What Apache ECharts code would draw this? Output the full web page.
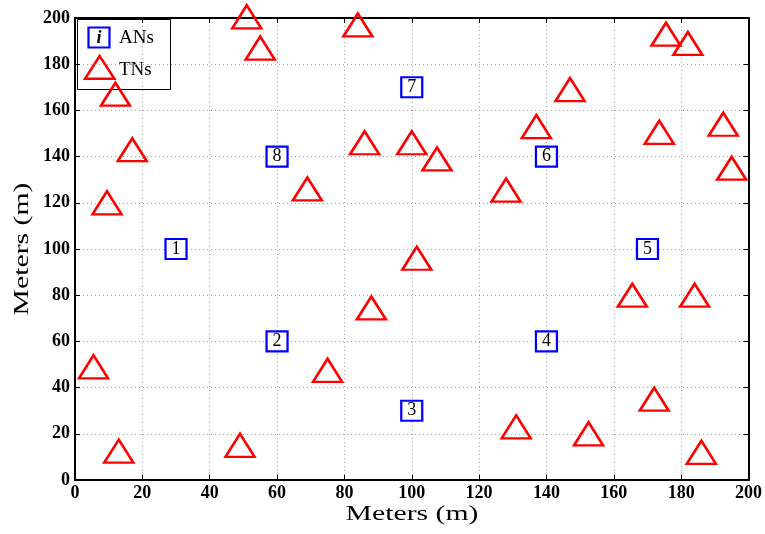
<!DOCTYPE html>
<html>
<head>
<meta charset="utf-8">
<title>Node layout</title>
<script src="https://cdn.jsdelivr.net/npm/echarts@6/dist/echarts.min.js"></script>
<style>
  html, body { margin: 0; padding: 0; background: #fff; }
  #chart { width: 765px; height: 534px; }
</style>
</head>
<body>
<div id="chart"></div>
<script>
// Anchor nodes (ANs): id label and position in meters
const anLabels = ['1', '2', '3', '4', '5', '6', '7', '8'];
const anX = [30, 60, 100, 140, 170, 140, 100, 60];
const anY = [100, 60, 30, 60, 100, 140, 170, 140];

// Target nodes (TNs): position in meters
const tnX = [51, 55, 12, 17, 9.5, 84, 86, 100, 107.5, 128, 69, 175.5, 182, 147, 137,
             173.5, 192.5, 195, 5.5, 13, 49, 101.5, 88, 75, 131, 165.5, 184, 172, 152.5, 186];
const tnY = [200.5, 187, 167, 143, 120, 197, 146, 146, 139, 125.5, 126, 193, 189, 169, 153,
             150.5, 154, 135, 49, 12.5, 15, 96, 74.5, 47.5, 23, 80, 80, 35, 20, 12];

// Axis range and tick step (meters)
const axisMin = 0;
const axisMax = 200;
const tickStep = 20;

const serif = 'Liberation Serif';

const chart = echarts.init(document.getElementById('chart'), null, { renderer: 'canvas' });

function mainAxis(position) {
  return {
    type: 'value', min: axisMin, max: axisMax, interval: tickStep, position: position,
    axisLine: { show: true, onZero: false, lineStyle: { color: '#000', width: 2 } },
    axisTick: { show: true, inside: true, length: 5, lineStyle: { color: '#000', width: 1 } },
    axisLabel: { show: true, color: '#000', fontFamily: serif, fontWeight: 'bold', fontSize: 18, margin: 4 },
    splitLine: { show: true, lineStyle: { color: '#a0a0a0', width: 1, type: [1, 3] } }
  };
}
function mirrorAxis(position) {
  return {
    type: 'value', min: axisMin, max: axisMax, interval: tickStep, position: position,
    axisLine: { show: true, onZero: false, lineStyle: { color: '#000', width: 2 } },
    axisTick: { show: true, inside: true, length: 5, lineStyle: { color: '#000', width: 1 } },
    axisLabel: { show: false },
    splitLine: { show: false }
  };
}

const option = {
  backgroundColor: '#fff',
  animation: false,
  grid: { left: 75, right: 16, top: 18, bottom: 54, containLabel: false },
  xAxis: [mainAxis('bottom'), mirrorAxis('top')],
  yAxis: [
    Object.assign(mainAxis('left'), { axisLabel: { show: true, color: '#000', fontFamily: serif, fontWeight: 'bold', fontSize: 18, margin: 5 } }),
    mirrorAxis('right')
  ],
  series: [
    {
      name: 'ANs',
      type: 'scatter',
      silent: true,
      clip: false,
      z: 3,
      symbol: 'rect',
      symbolSize: [21, 20],
      itemStyle: { color: '#fff', borderColor: '#0000ff', borderWidth: 2.2, opacity: 1 },
      label: {
        show: true, position: 'inside', color: '#000',
        fontFamily: serif, fontSize: 18,
        formatter: p => p.value[2]
      },
      data: anX.map((x, i) => [x, anY[i], anLabels[i]])
    },
    {
      name: 'TNs',
      type: 'scatter',
      silent: true,
      clip: false,
      z: 4,
      symbol: 'triangle',
      symbolSize: [29, 23],
      itemStyle: { color: 'rgba(0,0,0,0)', borderColor: '#ff0000', borderWidth: 2.5, opacity: 1 },
      data: tnX.map((x, i) => [x, tnY[i]])
    }
  ],
  graphic: [
    // legend frame and entries
    {
      type: 'group', z: 100,
      children: [
        { type: 'rect', shape: { x: 77.5, y: 19.5, width: 93, height: 70 },
          style: { fill: '#fff', stroke: '#000', lineWidth: 1 } },
        { type: 'rect', shape: { x: 88.5, y: 27.5, width: 21, height: 20 },
          style: { fill: '#fff', stroke: '#0000ff', lineWidth: 2.2 } },
        { type: 'text', x: 99, y: 38,
          style: { text: 'i', font: 'italic bold 18px "Liberation Serif"', fill: '#000',
                   textAlign: 'center', textVerticalAlign: 'middle' } },
        { type: 'text', x: 119, y: 38,
          style: { text: 'ANs', font: '19px "Liberation Serif"', fill: '#000',
                   textAlign: 'left', textVerticalAlign: 'middle' } },
        { type: 'polygon', shape: { points: [[99.7, 56], [85, 78.8], [114.4, 78.8]] },
          style: { fill: 'none', stroke: '#ff0000', lineWidth: 2.5, lineJoin: 'miter' } },
        { type: 'text', x: 119, y: 70,
          style: { text: 'TNs', font: '19px "Liberation Serif"', fill: '#000',
                   textAlign: 'left', textVerticalAlign: 'middle' } }
      ]
    },
    // axis titles
    { type: 'text', x: 412, y: 514, scaleX: 1.35, z: 100,
      style: { text: 'Meters (m)', font: '22px "Liberation Serif"', fill: '#000',
               textAlign: 'center', textVerticalAlign: 'middle' } },
    { type: 'text', x: 22, y: 249, rotation: Math.PI / 2, scaleX: 1.35, z: 100,
      style: { text: 'Meters (m)', font: '22px "Liberation Serif"', fill: '#000',
               textAlign: 'center', textVerticalAlign: 'middle' } }
  ]
};

chart.setOption(option);
</script>
</body>
</html>
